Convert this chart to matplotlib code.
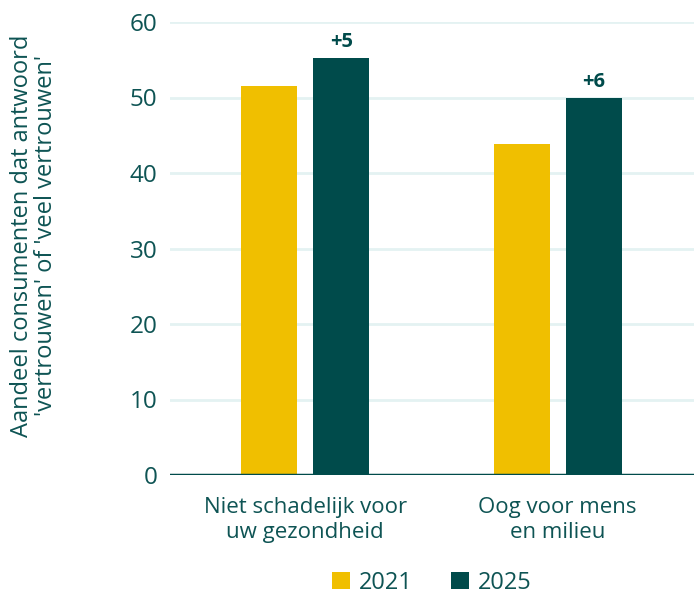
import numpy as np
import matplotlib.pyplot as plt

categories = ["Niet schadelijk voor\nuw gezondheid", "Oog voor mens\nen milieu"]
values_2021 = [51.5, 43.8]
values_2025 = [55.2, 49.9]
changes = ["+5", "+6"]

teal = "#004B4B"
yellow = "#F0BF00"
text_col = "#0E5454"
grid_col = "#E4F2F2"

plt.rcParams['font.family'] = ['Open Sans', 'DejaVu Sans']

fig = plt.figure(figsize=(6.94, 5.95), dpi=100)
ax = fig.add_axes([170 / 694, 1 - 475 / 595, 524 / 694, 453 / 595])

x = np.arange(len(categories))
w = 0.222
off = 0.143
ax.bar(x - off, values_2021, w, color=yellow, label="2021", zorder=3)
ax.bar(x + off, values_2025, w, color=teal, label="2025", zorder=3)

for xi, v, c in zip(x, values_2025, changes):
    ax.text(xi + off, v + 0.8, c, ha="center", va="bottom", fontsize=14.5,
            fontweight="bold", color=teal)

ax.set_xlim(-0.536, 1.54)
ax.set_ylim(0, 60)
ax.set_yticks(range(0, 61, 10))
ax.grid(axis="y", color=grid_col, linewidth=2, zorder=0)
ax.axhline(0, color=teal, linewidth=2.5, zorder=4)
for s in ax.spines.values():
    s.set_visible(False)
ax.tick_params(axis="y", length=0, labelsize=17.5, labelcolor=text_col, pad=9)
ax.tick_params(axis="x", length=0, labelsize=16, labelcolor=text_col, pad=16)
ax.set_xticks(x)
ax.set_xticklabels(categories, linespacing=1.25)

fig.text(34 / 694, 1 - 236 / 595,
         "Aandeel consumenten dat antwoord\n'vertrouwen' of 'veel vertrouwen'",
         rotation=90, ha="center", va="center", fontsize=17, color=text_col,
         linespacing=1.0)

leg = fig.legend(loc="center", bbox_to_anchor=(432 / 694, 1 - 583 / 595), ncol=2,
                 frameon=False, fontsize=17, handlelength=0.75, handleheight=0.75,
                 handletextpad=0.4, columnspacing=1.6)
for t in leg.get_texts():
    t.set_color(text_col)

fig.savefig("out.png", dpi=100)
